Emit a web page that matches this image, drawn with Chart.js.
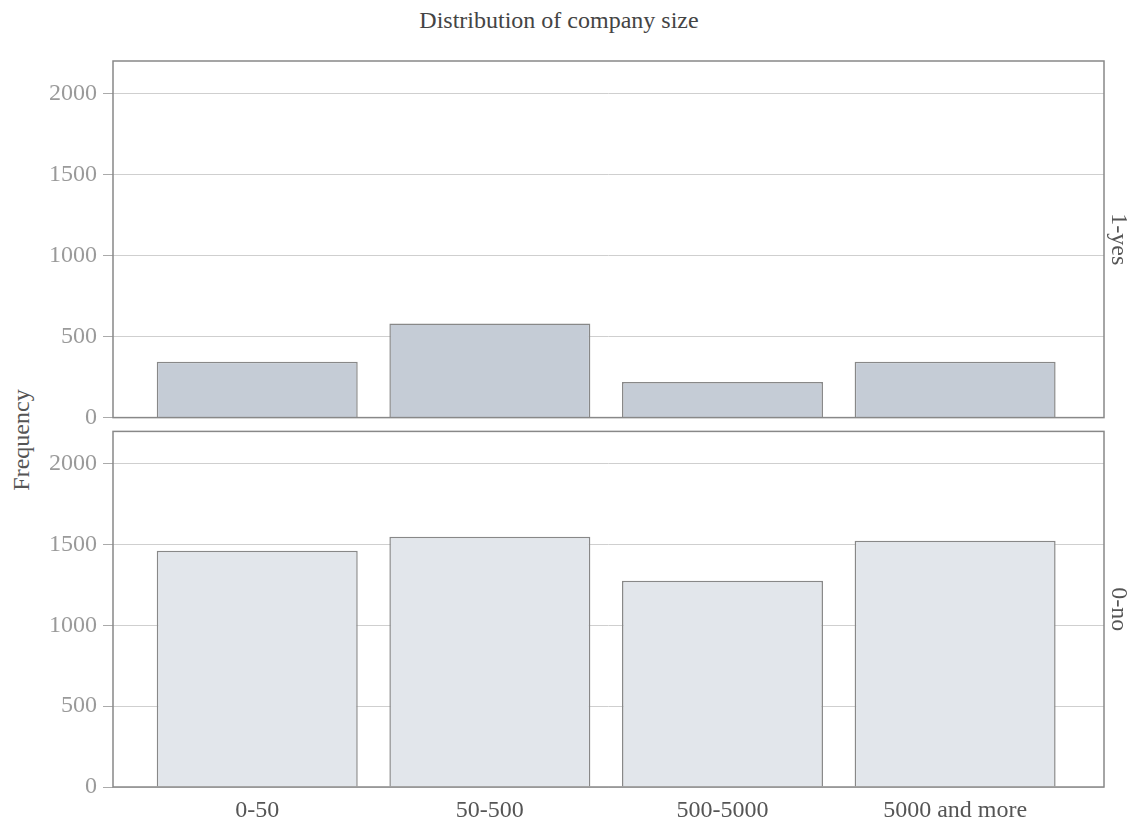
<!DOCTYPE html>
<html>
<head>
<meta charset="utf-8">
<title>Distribution of company size</title>
<script src="https://cdn.jsdelivr.net/npm/chart.js@4.4.1/dist/chart.umd.min.js"></script>
<style>
  body { margin: 0; background: #fff; font-family: "Liberation Serif", "Times New Roman", serif; }
  #page { position: relative; width: 1136px; height: 821px; overflow: hidden; }
  #title { position: absolute; top: 7px; left: 0; width: 1118px; text-align: center; font-size: 24px; color: #444; }
  #ylab { position: absolute; left: 21px; top: 440px; transform: translate(-50%, -50%) rotate(-90deg); font-size: 24px; color: #555; white-space: nowrap; }
  .panel { position: absolute; left: 0; width: 1136px; }
  #topPanel { top: 0; height: 438px; }
  #bottomPanel { top: 411px; height: 410px; }
</style>
</head>
<body>
<div id="page">
  <div id="title">Distribution of company size</div>
  <div id="ylab">Frequency</div>
  <div class="panel" id="topPanel"><canvas id="yesChart"></canvas></div>
  <div class="panel" id="bottomPanel"><canvas id="noChart"></canvas></div>
</div>
<script>
// company size bands (x categories)
const sizeBands = ["0-50", "50-500", "500-5000", "5000 and more"];
// counts per facet
const yesCounts = [345, 580, 220, 345];
const noCounts = [1461, 1549, 1276, 1523];
const freqTicks = [0, 500, 1000, 1500, 2000];
const facetNames = ["1-yes", "0-no"];

const FONT = "'Liberation Serif', 'Times New Roman', serif";

// draws the box round each panel
const frameBox = {
  id: 'frameBox',
  afterDraw(chart) {
    const a = chart.chartArea;
    const ctx = chart.ctx;
    ctx.save();
    ctx.strokeStyle = '#888';
    ctx.lineWidth = 1.5;
    ctx.strokeRect(a.left, a.top, a.right - a.left, a.bottom - a.top);
    ctx.restore();
  }
};

function makePanel(canvasId, counts, fill, facet, showX, pad) {
  return new Chart(document.getElementById(canvasId), {
    type: 'bar',
    data: {
      datasets: [{
        data: counts.map((v, i) => ({x: i, y: v})),
        backgroundColor: fill,
        borderColor: '#888',
        borderWidth: 1.5,
        barPercentage: 0.864,
        categoryPercentage: 1.0
      }]
    },
    options: {
      responsive: true,
      maintainAspectRatio: false,
      animation: false,
      layout: { padding: pad },
      plugins: { legend: { display: false }, tooltip: { enabled: false } },
      scales: {
        x: {
          type: 'linear',
          min: -0.62,
          max: 3.64,
          offset: false,
          display: showX,
          grid: { display: false, drawTicks: false, offset: false },
          border: { display: false },
          afterBuildTicks: s => { s.ticks = sizeBands.map((_, i) => ({value: i})); },
          afterFit: s => { if (showX) s.height = 34; },
          ticks: {
            padding: 9,
            color: '#555',
            font: { family: FONT, size: 24 },
            callback: v => sizeBands[v]
          }
        },
        y: {
          min: 0,
          max: 2200,
          afterBuildTicks: s => { s.ticks = freqTicks.map(v => ({value: v})); },
          afterFit: s => { s.width = 113; },
          grid: { color: '#cfcfcf', lineWidth: 1, tickLength: 10, tickColor: '#aaa' },
          border: { display: false },
          ticks: { padding: 6, color: '#9a9a9a', font: { family: FONT, size: 24 }, callback: v => String(v) }
        },
        facet: {
          type: 'linear',
          position: 'right',
          grid: { display: false },
          border: { display: false },
          ticks: { display: false },
          afterFit: s => { s.width = 32; },
          title: { display: true, text: facet, color: '#555', font: { family: FONT, size: 24 }, padding: { top: 3, bottom: 3 } }
        }
      }
    },
    plugins: [frameBox]
  });
}

makePanel('yesChart', yesCounts, '#c5ccd6', facetNames[0], false, { top: 61, bottom: 0, left: 0, right: 0 });
makePanel('noChart', noCounts, '#e2e6eb', facetNames[1], true, { top: 0, bottom: 0, left: 0, right: 0 });
</script>
</body>
</html>
